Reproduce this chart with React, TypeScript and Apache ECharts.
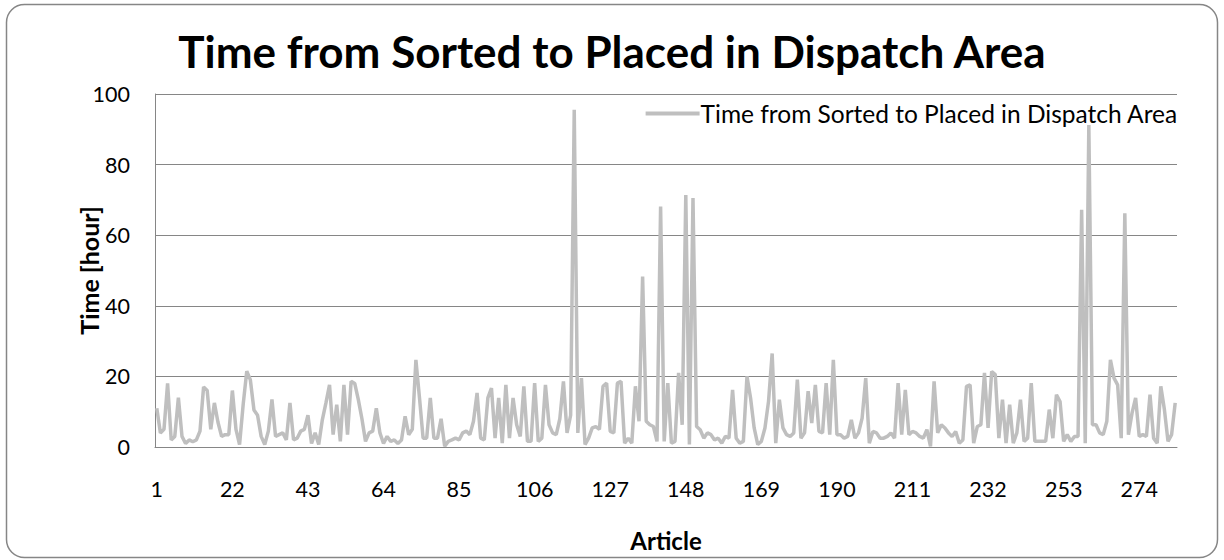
import React, { useEffect, useRef } from "react";
import * as echarts from "echarts";

// Hours between "sorted" and "placed in dispatch area", one value per article (1..284)
const hours: number[] = [
  11, 4, 5, 18, 2, 3, 14, 3, 1, 2, 1.5, 2, 4.5, 17, 16, 5, 12.5, 7, 3, 3.5, 3.5, 16, 5, 0.7, 12, 21.5, 19, 10.5, 9,
  3, 0.7, 4.5, 13.5, 3, 3.5, 4, 2, 12.5, 2, 2.5, 4.5, 5, 9, 1, 4, 0.7, 7.7, 12.5, 17.6, 3.5, 12, 1.6, 17.6, 3.5, 18.6, 18, 13.4,
  8, 1.6, 4, 4.5, 11, 4, 1, 3, 1.6, 2, 1, 2, 8.7, 3.5, 5, 24.7, 13.9, 2.5, 2.5, 13.9, 2.5, 2.5, 8, 0.2, 1.6, 2, 2.5,
  2, 4, 4.5, 3.5, 7.3, 15.3, 2.5, 2, 13.9, 16.7, 2.5, 13.9, 1.1, 17.6, 2.5, 13.9, 6.3, 3, 17.2, 1.6, 1.6, 18.1, 1.6, 2.5, 17.6, 6.3, 4, 3.5,
  8, 18.6, 4, 9, 95.5, 4, 19.5, 0.7, 2.5, 5.4, 5.8, 5, 17.2, 18.1, 4.4, 4, 18.1, 18.6, 1.1, 2.5, 1.1, 17.2, 7.3, 48.3, 7.3, 6.3, 5.8,
  1.6, 68.1, 1.6, 18.1, 1.1, 1.6, 21, 6.3, 71.4, 0.7, 70.5, 5.8, 4.9, 2.5, 4, 3.5, 2, 2.5, 1.1, 3, 2.5, 16.2, 2.5, 1.1, 1.6, 20, 13.9, 5.4,
  0.7, 1.6, 5.4, 13, 26.5, 1.1, 13.4, 5.4, 3.5, 3, 4, 19.1, 2.5, 4, 15.8, 6.8, 17.6, 4.4, 4, 18.1, 3.5, 24.7, 3.5, 3.5, 2.5, 3, 7.7, 2.5,
  4, 8.2, 19.5, 1.1, 4.4, 4, 2.5, 2.5, 3, 4, 2.5, 18.1, 3.5, 16.2, 3.5, 4.4, 4, 3, 2.5, 4.9, 0.2, 18.6, 4, 6.3, 5.4, 4, 3, 4.4,
  1.1, 2, 17.2, 17.6, 1.1, 5.8, 6.3, 21, 5.4, 21.4, 20.5, 2.5, 13.4, 1.1, 12, 1.1, 4, 13.4, 1.6, 2.5, 18.1, 1.6, 1.6, 1.6, 1.6, 10.6, 2.5, 14.8,
  12.9, 1.6, 3.5, 1.6, 3, 3, 67.2, 1.1, 91.2, 6.3, 6.3, 4, 3.5, 7.3, 24.7, 19.5, 17.6, 2.5, 66.2, 3.5, 9.6, 13.9, 3, 3.5, 3, 14.8, 2.5, 1.1, 17.2, 10.6, 1.6, 3.5, 12.5,
];

// Article numbers 1..N
const articles: string[] = hours.map((_, i) => String(i + 1));

const seriesName = "Time from Sorted to Placed in Dispatch Area";
const chartTitle = "Time from Sorted to Placed in Dispatch Area";
const yAxisTitle = "Time [hour]";
const xAxisTitle = "Article";

const FONT = "Lato, 'Open Sans', sans-serif";

export default function App() {
  const ref = useRef<HTMLDivElement>(null);

  useEffect(() => {
    document.body.style.margin = "0";
    if (!ref.current) return;
    const chart = echarts.init(ref.current, null, { renderer: "svg" });
    chart.setOption({
      animation: false,
      backgroundColor: "#ffffff",
      textStyle: { fontFamily: FONT },
      title: {
        text: chartTitle,
        left: "center",
        top: 24,
        textStyle: { fontFamily: FONT, fontSize: 44, fontWeight: "bold", color: "#000" },
      },
      legend: {
        right: 41,
        top: 96,
        itemWidth: 54,
        itemHeight: 4,
        itemGap: 0,
        icon: "rect",
        textStyle: { fontFamily: FONT, fontSize: 24.5, color: "#000", padding: [0, 0, 0, -4] },
        data: [{ name: seriesName, icon: "rect" }],
      },
      grid: { left: 155, right: 47, top: 94, bottom: 113, containLabel: false },
      xAxis: {
        type: "category",
        data: articles,
        boundaryGap: true,
        name: xAxisTitle,
        nameLocation: "middle",
        nameGap: 81,
        nameMoveOverlap: false,
        nameTextStyle: { fontFamily: FONT, fontSize: 24, fontWeight: "bold", color: "#000" },
        axisLine: { lineStyle: { color: "#868686", width: 1 } },
        axisTick: { show: false },
        axisLabel: { interval: 20, fontFamily: FONT, fontSize: 21.5, color: "#000", margin: 31 },
      },
      yAxis: {
        type: "value",
        min: 0,
        max: 100,
        interval: 20,
        name: yAxisTitle,
        nameLocation: "middle",
        nameGap: 54,
        nameMoveOverlap: false,
        nameTextStyle: { fontFamily: FONT, fontSize: 25, fontWeight: "bold", color: "#000" },
        axisLine: { show: true, lineStyle: { color: "#868686", width: 1 } },
        axisTick: { show: false },
        axisLabel: { fontFamily: FONT, fontSize: 21.5, color: "#000", margin: 25 },
        splitLine: { lineStyle: { color: "#868686", width: 1 } },
      },
      series: [
        {
          name: seriesName,
          type: "line",
          data: hours,
          showSymbol: false,
          symbol: "none",
          lineStyle: { color: "#bfbfbf", width: 3.5 },
          itemStyle: { color: "#bfbfbf" },
        },
      ],
      graphic: [
        {
          type: "rect",
          shape: { x: 6.5, y: 4.5, width: 1211, height: 553, r: 18 },
          style: { fill: "none", stroke: "#868686", lineWidth: 1.5 },
          z: -1,
        },
      ],
    });
    return () => chart.dispose();
  }, []);

  return <div ref={ref} style={{ width: 1224, height: 560 }} />;
}
